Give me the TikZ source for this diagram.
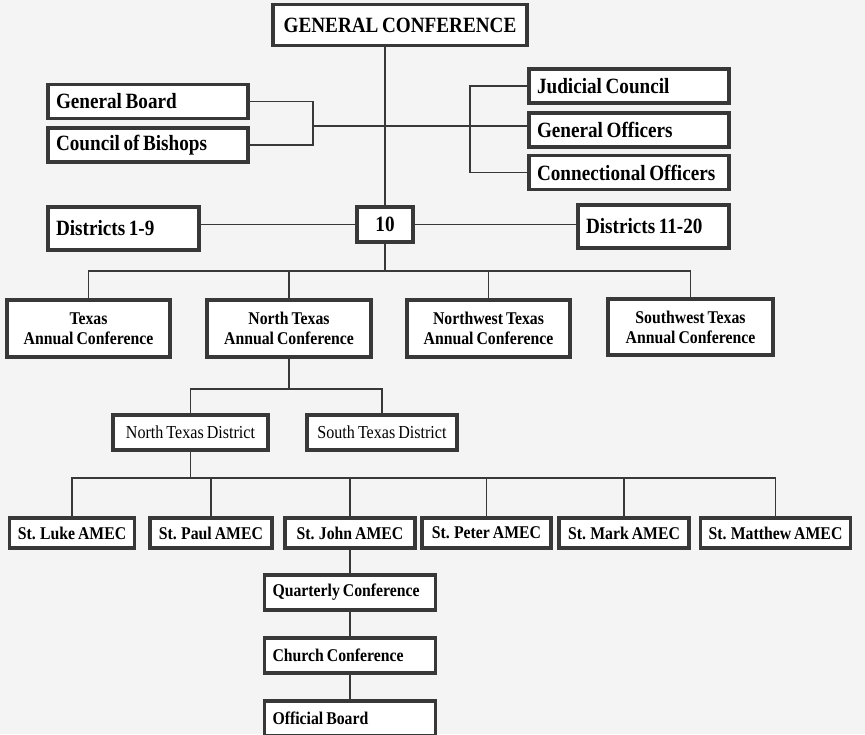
\documentclass[tikz,border=0pt]{standalone}
\usepackage{fontspec}
\setmainfont{Liberation Serif}[FakeStretch=0.88, WordSpace=0.75]
\definecolor{paper}{gray}{0.955}
\definecolor{ink}{gray}{0.22}
\tikzset{
  box/.style={draw=ink, line width=1.8pt, fill=white, inner xsep=0.16cm, inner ysep=0.04cm},
  bigfont/.style={font={\fontsize{12.4}{14}\selectfont\bfseries}},
  smallfont/.style={font={\fontsize{10.2}{11.5}\selectfont\bfseries}},
  lbox/.style={box, bigfont, text width=#1, align=flush left, minimum height=0.68cm},
  sbox/.style={box, smallfont, align=center, minimum height=0.6cm},
  link/.style={draw=ink, line width=0.7pt}
}

\begin{document}
\begin{tikzpicture}[x=0.02cm, y=-0.02cm]
      \fill[paper] (0,0) rectangle (865,734);
      \useasboundingbox (0,0) rectangle (865,734);
      \node[box, bigfont, minimum width=5.08cm, minimum height=0.82cm] (gc) at (400,25) {GENERAL CONFERENCE};
      \node[lbox=3.68cm] (board) at (148,101.5) {General Board};
      \node[lbox=3.68cm] (bishops) at (148,145) {Council of Bishops};
      \node[lbox=3.68cm] (judicial) at (629,86) {Judicial Council};
      \node[lbox=3.68cm] (officers) at (629,130) {General Officers};
      \node[lbox=3.68cm] (connect) at (629,172.5) {Connectional Officers};
      \node[lbox=2.70cm, minimum height=0.86cm] (d1) at (123.5,228.5) {Districts 1-9};
      \node[box, bigfont, minimum width=1.12cm, minimum height=0.7cm] (ten) at (385,224.5) {10};
      \node[lbox=2.70cm, minimum height=0.86cm] (d2) at (653.5,226.5) {Districts 11-20};
      \node[sbox, minimum width=3.26cm, minimum height=1.14cm] (texas) at (88.5,328.5) {Texas\\Annual Conference};
      \node[sbox, minimum width=3.28cm, minimum height=1.14cm] (ntac) at (289,328.5) {North Texas\\Annual Conference};
      \node[sbox, minimum width=3.26cm, minimum height=1.14cm] (nwac) at (488.5,328.5) {Northwest Texas\\Annual Conference};
      \node[sbox, minimum width=3.30cm, minimum height=1.12cm] (swac) at (690.5,327) {Southwest Texas\\Annual Conference};
      \node[sbox, font=\fontsize{10.4}{11.5}\selectfont, minimum width=3.10cm, minimum height=0.7cm] (ntd) at (190.5,432.5) {North Texas District};
      \node[sbox, font=\fontsize{10.4}{11.5}\selectfont, minimum width=3.00cm, minimum height=0.7cm] (std) at (382,432.5) {South Texas District};
      \node[sbox, minimum width=2.40cm] (luke) at (72,533) {St. Luke AMEC};
      \node[sbox, minimum width=2.44cm] (paul) at (211,533) {St. Paul AMEC};
      \node[sbox, minimum width=2.60cm] (john) at (350,533) {St. John AMEC};
      \node[sbox, minimum width=2.58cm] (peter) at (486.5,533) {St. Peter AMEC};
      \node[sbox, minimum width=2.60cm] (mark) at (624,533) {St. Mark AMEC};
      \node[sbox, minimum width=2.98cm] (matthew) at (775.5,533) {St. Matthew AMEC};
      \node[sbox, text width=3.10cm, align=flush left, minimum height=0.7cm] (quarterly) at (350,592.5) {Quarterly Conference};
      \node[sbox, text width=3.10cm, align=flush left, minimum height=0.7cm] (church) at (350,655.5) {Church Conference};
      \node[sbox, text width=3.10cm, align=flush left, minimum height=0.7cm] (official) at (350,718.5) {Official Board};
      \coordinate (lb) at (313,126);
      \coordinate (rb) at (470,126);
      \coordinate (abar) at (385,271);
      \coordinate (dbar) at (289,389);
      \coordinate (cbar) at (190.5,478);
      \draw[link] (gc.south -| ten.north) -- (ten.north);
      \draw[link] (board.east) -| (lb) |- (bishops.east);
      \draw[link] (lb) -- (lb -| officers.west);
      \draw[link] (judicial.west) -| (rb) |- (connect.west);
      \draw[link] (ten.west) -- (ten.west -| d1.east);
      \draw[link] (ten.east) -- (ten.east -| d2.west);
      \draw[link] (ten.south) -- (abar);
      \draw[link] (texas.north) |- (abar) -| (swac.north);
      \draw[link] (ntac.north) -- (ntac.north |- abar);
      \draw[link] (nwac.north) -- (nwac.north |- abar);
      \draw[link] (ntac.south) -- (dbar);
      \draw[link] (ntd.north) |- (dbar) -| (std.north);
      \draw[link] (ntd.south) -- (cbar);
      \draw[link] (luke.north) |- (cbar) -| (matthew.north);
      \draw[link] (paul.north) -- (paul.north |- cbar);
      \draw[link] (john.north) -- (john.north |- cbar);
      \draw[link] (peter.north) -- (peter.north |- cbar);
      \draw[link] (mark.north) -- (mark.north |- cbar);
      \draw[link] (john.south) -- (quarterly.north);
      \draw[link] (quarterly.south) -- (church.north);
      \draw[link] (church.south) -- (official.north);
    \end{tikzpicture}
\end{document}
